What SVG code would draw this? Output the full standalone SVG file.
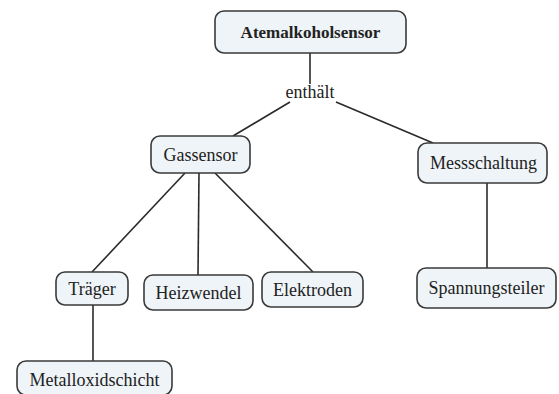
<svg xmlns="http://www.w3.org/2000/svg" width="559" height="394" viewBox="0 0 559 394">
<style>
.n rect{fill:#eef4f7;stroke:#3a3a3a;stroke-width:1.6}
.n text{font-family:"Liberation Serif","Times New Roman",Times,serif;font-size:18px;fill:#222;text-anchor:middle}
.c line{stroke:#2a2a2a;stroke-width:1.6}
.lbl{font-family:"Liberation Serif","Times New Roman",Times,serif;font-size:18px;fill:#222;text-anchor:middle}
</style>
<rect width="559" height="394" fill="#fff"/>
<g class="c" id="connectors">
<line x1="310" y1="53" x2="310" y2="84"/>
<line x1="290" y1="102" x2="233" y2="136"/>
<line x1="336" y1="102" x2="433" y2="143"/>
<line x1="185" y1="173" x2="92" y2="272"/>
<line x1="199" y1="173" x2="198" y2="275"/>
<line x1="215" y1="173" x2="313" y2="272"/>
<line x1="487" y1="183" x2="487" y2="268"/>
<line x1="93" y1="305" x2="93" y2="361"/>
<text class="lbl" x="310" y="98">enthält</text>
</g>
<g class="n" id="atemalkoholsensor"><rect x="215" y="11" width="191" height="42" rx="9"/><text x="310.5" y="38" font-weight="bold" style="font-size:17px">Atemalkoholsensor</text></g>
<g class="n" id="gassensor"><rect x="151" y="136" width="99" height="37" rx="9"/><text x="200.5" y="161">Gassensor</text></g>
<g class="n" id="messschaltung"><rect x="418" y="143" width="129" height="40" rx="9"/><text x="483.5" y="169">Messschaltung</text></g>
<g class="n" id="traeger"><rect x="56" y="272" width="72" height="33" rx="9"/><text x="92" y="295">Träger</text></g>
<g class="n" id="heizwendel"><rect x="144" y="275" width="109" height="35" rx="9"/><text x="198.5" y="299">Heizwendel</text></g>
<g class="n" id="elektroden"><rect x="262" y="272" width="101" height="35" rx="9"/><text x="312.5" y="296">Elektroden</text></g>
<g class="n" id="spannungsteiler"><rect x="417" y="268" width="139" height="40" rx="9"/><text x="486.5" y="294">Spannungsteiler</text></g>
<g class="n" id="metalloxidschicht"><rect x="17" y="361" width="155" height="34" rx="9"/><text x="94.5" y="386">Metalloxidschicht</text></g>
</svg>
